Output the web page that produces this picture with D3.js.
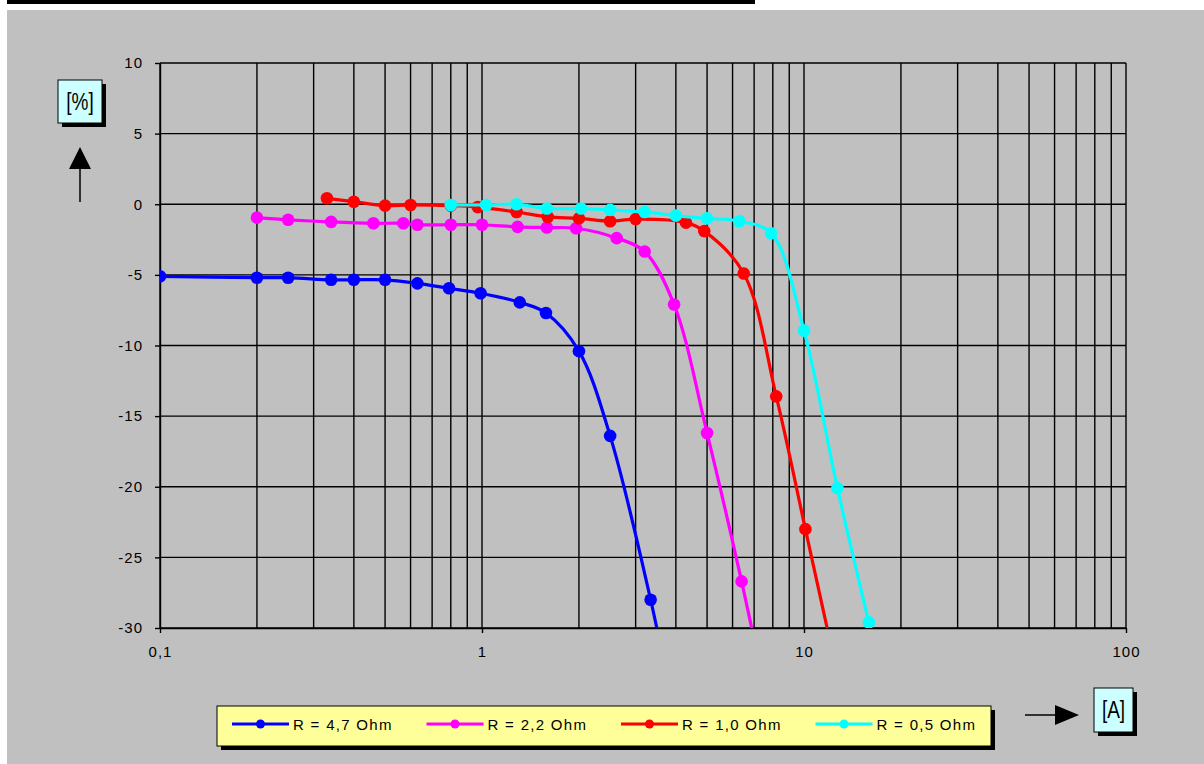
<!DOCTYPE html>
<html>
<head>
<meta charset="utf-8">
<script src="https://cdn.jsdelivr.net/npm/d3@7"></script>
<style>
  body { margin: 0; background: #fff; }
  text { font-family: "Liberation Sans", Arial, sans-serif; }
</style>
</head>
<body>
<script>
// series: current [A] vs deviation [%]
let seriesNames = ["R = 4,7 Ohm", "R = 2,2 Ohm", "R = 1,0 Ohm", "R = 0,5 Ohm"];
let seriesColors = ["#0000ff", "#ff00ff", "#ff0000", "#00ffff"];

let r47_x = [0.1, 0.2, 0.25, 0.34, 0.4, 0.5, 0.63, 0.79, 0.99, 1.31, 1.58, 2.0, 2.5, 3.34, 3.6];
let r47_y = [-5.1, -5.2, -5.2, -5.35, -5.35, -5.35, -5.6, -5.95, -6.3, -6.95, -7.7, -10.4, -16.4, -28.0, -31.5];

let r22_x = [0.2, 0.25, 0.34, 0.46, 0.57, 0.63, 0.8, 1.0, 1.29, 1.59, 1.96, 2.62, 3.2, 3.95, 5.0, 6.4, 7.1];
let r22_y = [-0.95, -1.1, -1.25, -1.35, -1.35, -1.45, -1.45, -1.45, -1.6, -1.65, -1.7, -2.4, -3.35, -7.1, -16.2, -26.7, -31.5];

let r10_x = [0.33, 0.4, 0.5, 0.6, 0.8, 0.97, 1.28, 1.6, 2.0, 2.5, 3.0, 4.3, 4.9, 6.5, 8.2, 10.1, 12.2];
let r10_y = [0.42, 0.18, -0.1, -0.05, -0.1, -0.2, -0.55, -0.9, -1.0, -1.2, -1.05, -1.3, -1.9, -4.9, -13.6, -23.0, -31.5];

let r05_x = [0.8, 1.03, 1.28, 1.59, 2.03, 2.5, 3.2, 4.0, 5.0, 6.3, 7.9, 10.0, 12.7, 15.9];
let r05_y = [-0.05, -0.05, 0.0, -0.3, -0.3, -0.4, -0.55, -0.8, -1.0, -1.2, -2.05, -8.95, -20.1, -29.6];

let xTickValues = [0.1, 1, 10, 100];
let xTickLabels = ["0,1", "1", "10", "100"];
let yTickValues = [-30, -25, -20, -15, -10, -5, 0, 5, 10];
let yTickLabels = ["-30", "-25", "-20", "-15", "-10", "-5", "0", "5", "10"];
let xGridValues = [0.1, 0.2, 0.3, 0.4, 0.5, 0.6, 0.7, 0.8, 0.9,
                   1, 2, 3, 4, 5, 6, 7, 8, 9,
                   10, 20, 30, 40, 50, 60, 70, 80, 90, 100];

let width = 1204;
let height = 764;
let plotLeft = 160, plotRight = 1126, plotTop = 63, plotBottom = 628;

let svg = d3.select("body")
            .append("svg")
            .attr("width", width)
            .attr("height", height)

// gray chart background and black title bar
svg.append("rect").attr("x", 7).attr("y", 10).attr("width", width - 7).attr("height", height - 10).attr("fill", "#c0c0c0")
svg.append("rect").attr("x", 7).attr("y", 0).attr("width", 748).attr("height", 4).attr("fill", "#000")

let x = d3.scaleLog().domain([0.1, 100]).range([plotLeft, plotRight]);
let y = d3.scaleLinear().domain([-30, 10]).range([plotBottom, plotTop]);

// grid
let grid = svg.append("g").attr("stroke", "#000").attr("stroke-width", 1.4)
grid.selectAll(".vx").data(xGridValues).enter().append("line")
    .attr("x1", d => x(d)).attr("x2", d => x(d))
    .attr("y1", plotTop).attr("y2", plotBottom)
grid.selectAll(".hy").data(yTickValues).enter().append("line")
    .attr("x1", plotLeft).attr("x2", plotRight)
    .attr("y1", d => y(d)).attr("y2", d => y(d))

// axes
svg.append("g")
    .attr("transform", "translate(" + plotLeft + ",0)")
    .call(d3.axisLeft(y).tickValues(yTickValues).tickSize(5).tickPadding(12).tickSizeOuter(0)
            .tickFormat((d, i) => yTickLabels[i]))
svg.append("g")
    .attr("transform", "translate(0," + plotBottom + ")")
    .call(d3.axisBottom(x).tickValues(xTickValues).tickSize(5).tickPadding(13).tickSizeOuter(0)
            .tickFormat((d, i) => xTickLabels[i]))
svg.selectAll(".tick line, .domain").attr("stroke", "#000").attr("stroke-width", 1.4)
svg.selectAll(".tick text").attr("fill", "#000").attr("font-size", 15).attr("letter-spacing", 1)
   .style("font-family", "'Liberation Sans', Arial, sans-serif")

// clip to plot area
svg.append("clipPath").attr("id", "plot")
   .append("rect").attr("x", plotLeft).attr("y", plotTop).attr("width", plotRight - plotLeft).attr("height", plotBottom - plotTop)

let allSeries = [[r47_x, r47_y], [r22_x, r22_y], [r10_x, r10_y], [r05_x, r05_y]].map(function(s, i) {
  return { name: seriesNames[i], color: seriesColors[i], pts: s[0].map((v, j) => [v, s[1][j]]) }
})

let line = d3.line()
             .x(d => x(d[0]))
             .y(d => y(d[1]))
             .curve(d3.curveCatmullRom.alpha(0.5))

let plot = svg.append("g").attr("clip-path", "url(#plot)")
allSeries.forEach(function(s) {
  let g = plot.append("g")
  g.append("path")
   .attr("d", line(s.pts))
   .attr("fill", "none")
   .attr("stroke", s.color)
   .attr("stroke-width", 3.2)
  g.selectAll("circle").data(s.pts).enter().append("circle")
   .attr("cx", d => x(d[0]))
   .attr("cy", d => y(d[1]))
   .attr("r", 6.3)
   .attr("fill", s.color)
})

// axis unit boxes with shadow
function unitBox(bx, by, bw, bh, label) {
  svg.append("rect").attr("x", bx + 4).attr("y", by + 4).attr("width", bw).attr("height", bh).attr("fill", "#000")
  svg.append("rect").attr("x", bx).attr("y", by).attr("width", bw).attr("height", bh)
     .attr("fill", "#ccffff").attr("stroke", "#000").attr("stroke-width", 1)
  svg.append("text")
     .attr("transform", "translate(" + (bx + bw / 2) + "," + (by + bh / 2 + 8) + ") scale(1,1.25)")
     .attr("text-anchor", "middle")
     .attr("font-size", 19)
     .attr("fill", "#000")
     .text(label)
}
unitBox(58, 80, 44, 43, "[%]")
unitBox(1094, 688, 39, 44, "[A]")

// arrows
svg.append("line").attr("x1", 80).attr("x2", 80).attr("y1", 202).attr("y2", 168).attr("stroke", "#000").attr("stroke-width", 1.5)
svg.append("path").attr("d", "M80,147 L69,169 L91,169 Z").attr("fill", "#000")
svg.append("line").attr("x1", 1025).attr("x2", 1056).attr("y1", 715).attr("y2", 715).attr("stroke", "#000").attr("stroke-width", 1.5)
svg.append("path").attr("d", "M1079,715 L1055,705 L1055,725 Z").attr("fill", "#000")

// legend
let legend = svg.append("g")
legend.append("rect").attr("x", 221).attr("y", 710).attr("width", 774).attr("height", 40).attr("fill", "#000")
legend.append("rect").attr("x", 217).attr("y", 706).attr("width", 774).attr("height", 40)
      .attr("fill", "#ffff99").attr("stroke", "#000").attr("stroke-width", 1)

let item = legend.selectAll(".item").data(allSeries).enter().append("g")
      .attr("transform", (d, i) => "translate(" + (232 + i * 194.5) + ",724)")
item.append("line").attr("x1", 0).attr("x2", 57).attr("stroke", d => d.color).attr("stroke-width", 3)
item.append("circle").attr("cx", 28.5).attr("r", 4.5).attr("fill", d => d.color)
item.append("text")
    .attr("x", 61).attr("y", 5.5)
    .attr("font-size", 15)
    .attr("letter-spacing", 1.3)
    .attr("fill", "#000")
    .text(d => d.name)
</script>
</body>
</html>
